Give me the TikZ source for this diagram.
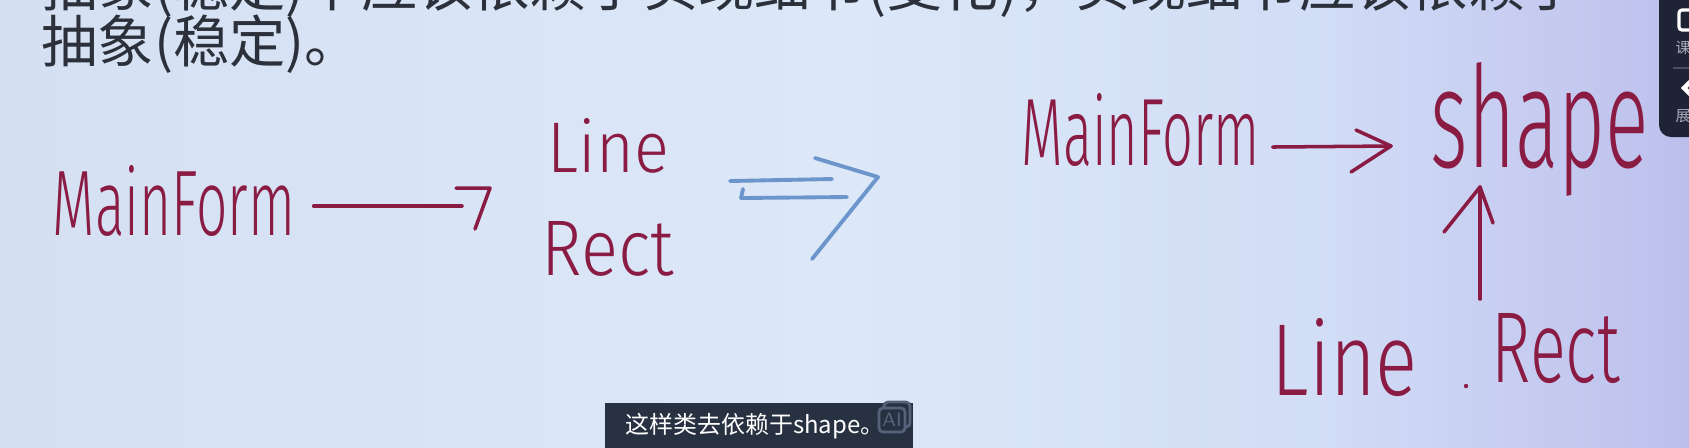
\documentclass[tikz,border=0pt]{standalone}
\usepackage{fontspec}
\setmainfont{Liberation Sans}
\newfontfamily\cjk{Noto Sans CJK SC}
\newfontfamily\hwfont{Fira Sans Light}
\definecolor{bgA}{HTML}{D5E1F3}
\definecolor{bgB}{HTML}{DCE8F8}
\definecolor{bgC}{HTML}{D2DDF6}
\definecolor{bgD}{HTML}{C0C4EE}
\definecolor{bgE}{HTML}{BBBEEC}
\definecolor{txt}{HTML}{2B303B}
\definecolor{ink}{HTML}{8A1C44}
\definecolor{bluepen}{HTML}{6C95CC}
\definecolor{panel}{HTML}{1E2436}
\definecolor{panelgray}{HTML}{A8ADBB}
\definecolor{sepgray}{HTML}{4A5060}
\definecolor{subbox}{HTML}{283142}
\definecolor{aigray}{HTML}{56617A}
\pgfdeclarehorizontalshading{bgshade}{100bp}{color(0bp)=(bgA); color(25bp)=(bgA); color(50bp)=(bgB); color(64bp)=(bgC); color(73.5bp)=(bgD); color(75bp)=(bgE); color(100bp)=(bgE)}
\newcommand{\hw}[3]{\resizebox{#1}{#2}{\hwfont #3}}
\tikzset{
  hwtext/.style={inner sep=0pt, text=ink, anchor=base west},
  pen/.style={draw=ink, line width=1pt, line cap=round, line join=round},
  bpen/.style={draw=bluepen, line width=1.1pt, line cap=round, line join=round},
  cjktext/.style={inner sep=0pt, anchor=base west, font=\cjk}
}
\begin{document}
\begin{tikzpicture}[x=0.01cm, y=-0.01cm]
\useasboundingbox (0,0) rectangle (1689,447);
\clip (0,0) rectangle (1689,447);
\shade[shading=bgshade] (0,0) rectangle (1689,447);

% slide text
\node[cjktext, text=txt] (l1) at (41,6) {\fontsize{16pt}{16pt}\selectfont 抽象(稳定)不应该依赖于实现细节(变化)，实现细节应该依赖于};
\node[cjktext, text=txt] (l2) at (41,62) {\fontsize{16pt}{16pt}\selectfont 抽象(稳定)。};

% left diagram
\node[hwtext] (mfA) at (52,235) {\hw{2.42cm}{0.70cm}{MainForm}};
\node[hwtext] (lineA) at (547,172) {\hw{1.21cm}{0.54cm}{Line}};
\node[hwtext] (rectA) at (541,275) {\hw{1.32cm}{0.54cm}{Rect}};
\coordinate (tipA) at (462,206);
\draw[pen] (mfA.east |- tipA) ++(18,0) -- (tipA);
\draw[pen] (tipA) ++(-6,-18) -- ++(34,0) -- ++(-15,41);

% blue implication arrow
\coordinate (dtip) at (878,177);
\draw[bpen] (730,181) -- (832,179);
\draw[bpen] (743,189) -- (741,198) -- (847,197);
\draw[bpen] (815,158) -- (dtip) -- (812,259);

% right diagram
\node[hwtext] (mfB) at (1021,165) {\hw{2.38cm}{0.72cm}{MainForm}};
\node[hwtext] (shapeB) at (1430,167) {\hw{2.18cm}{1.05cm}{shape}};
\node[hwtext] (lineB) at (1271,395) {\hw{1.46cm}{0.77cm}{Line}};
\node[hwtext] (rectB) at (1491,382) {\hw{1.28cm}{0.69cm}{Rect}};
\fill[ink] (1466,386) circle (0.022cm);
\coordinate (tipB) at (1391,146);
\draw[pen] (mfB.east |- tipB) ++(12,1) -- (tipB);
\draw[pen] (1356,130) -- (tipB) -- (1351,172);
\coordinate (tipC) at (1480,187);
\coordinate (startC) at (1480,299);
\draw[pen] (startC) -- (tipC);
\draw[pen] (1444,232) -- (tipC) -- (1493,223);

% right side panel
\fill[panel, rounded corners=0.12cm] (1659,-20) rectangle (1730,137);
\draw[white, line width=0.9pt, rounded corners=0.03cm] (1679,10) rectangle (1702,30);
\node[cjktext, text=panelgray] (ke) at (1675,53) {\fontsize{4.3pt}{5pt}\selectfont 课};
\draw[sepgray, line width=0.5pt] (1673,68) -- (1700,68);
\draw[white, line width=1.3pt, line cap=round] (1690,82) -- (1684,88) -- (1690,94);
\node[cjktext, text=panelgray] (zhan) at (1675,121) {\fontsize{4.3pt}{5pt}\selectfont 展};

% subtitle
\fill[subbox] (605,403) rectangle (913,450);
\node[cjktext, text=white] (sub) at (625,433) {\fontsize{6.8pt}{8pt}\selectfont 这样类去依赖于shape。};
\draw[aigray, line width=0.8pt, rounded corners=0.04cm] (884,402) rectangle (910,427);
\filldraw[fill=subbox, draw=aigray, line width=0.8pt, rounded corners=0.04cm] (879,408) rectangle (905,432);
\node[inner sep=0pt, text=aigray, font=\sffamily\fontsize{5.5pt}{6pt}\selectfont] (ai) at (892,420) {AI};
\end{tikzpicture}
\end{document}
